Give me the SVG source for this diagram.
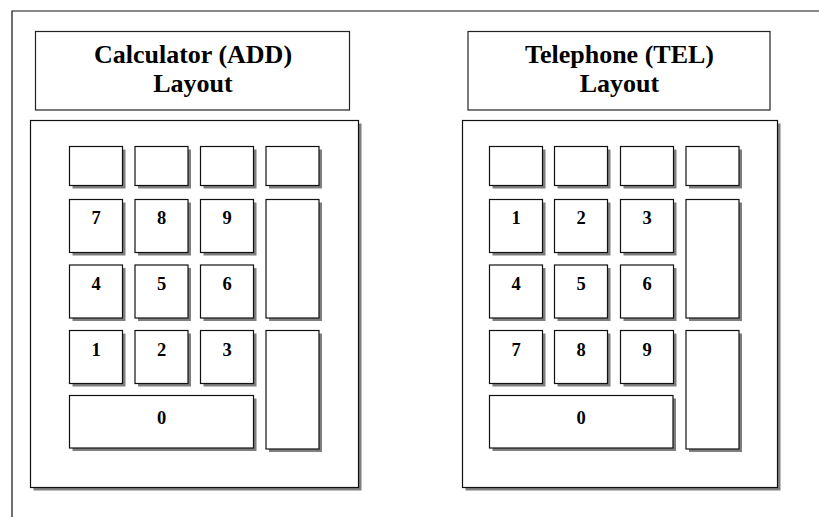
<svg xmlns="http://www.w3.org/2000/svg" width="819" height="517" viewBox="0 0 819 517">
  <style>
    .frame { fill: none; stroke: #111; stroke-width: 1.2; }
    .title { fill: #fff; stroke: #222; stroke-width: 1.2; }
    .shadow { fill: #7f7f7f; stroke: none; }
    .panel { fill: #fff; stroke: #111; stroke-width: 1.2; }
    .key { fill: #fff; stroke: #111; stroke-width: 1.2; }
    .ttl { font-family: "Liberation Serif", "Times New Roman", serif; font-weight: bold; font-size: 26px; text-anchor: middle; fill: #000; }
    .num { font-family: "Liberation Serif", "Times New Roman", serif; font-weight: bold; font-size: 18.5px; text-anchor: middle; fill: #000; }
  </style>
  <defs>
    <!-- key with drop shadow; position given by the use element -->
    <g id="k-small">
      <rect class="shadow" x="3" y="3" width="53" height="39"/>
      <rect class="key" x="0" y="0" width="53" height="39"/>
    </g>
    <g id="k-sq">
      <rect class="shadow" x="3" y="3" width="53" height="53"/>
      <rect class="key" x="0" y="0" width="53" height="53"/>
    </g>
    <g id="k-tall">
      <rect class="shadow" x="3" y="3" width="53" height="118.5"/>
      <rect class="key" x="0" y="0" width="53" height="118.5"/>
    </g>
  </defs>

  <rect width="819" height="517" fill="#fff"/>

  <!-- outer page frame (continues past the right and bottom edges) -->
  <path class="frame" d="M12 530 V11 H830"/>

  <!-- Calculator layout -->
  <g id="calc-title">
    <rect class="title" x="35.5" y="31.5" width="314" height="78.5"/>
    <text class="ttl" x="193" y="63">Calculator (ADD)</text>
    <text class="ttl" x="193" y="92">Layout</text>
  </g>

  <g id="calc-pad">
    <rect class="shadow" x="33.5" y="123.5" width="328" height="367"/>
    <rect class="panel" x="30.5" y="120.5" width="328" height="367"/>

    <use href="#k-small" x="69.5" y="146.5"/>
    <use href="#k-small" x="135" y="146.5"/>
    <use href="#k-small" x="200.5" y="146.5"/>
    <use href="#k-small" x="266" y="146.5"/>

    <use href="#k-sq" x="69.5" y="199.5"/>
    <use href="#k-sq" x="135" y="199.5"/>
    <use href="#k-sq" x="200.5" y="199.5"/>
    <use href="#k-tall" x="266" y="199.5"/>

    <use href="#k-sq" x="69.5" y="265"/>
    <use href="#k-sq" x="135" y="265"/>
    <use href="#k-sq" x="200.5" y="265"/>

    <use href="#k-sq" x="69.5" y="330.5"/>
    <use href="#k-sq" x="135" y="330.5"/>
    <use href="#k-sq" x="200.5" y="330.5"/>
    <use href="#k-tall" x="266" y="330.5"/>

    <rect class="shadow" x="72.5" y="398.5" width="184" height="52.5"/>
    <rect class="key" x="69.5" y="395.5" width="184" height="52.5"/>

    <text class="num" x="96" y="223.5">7</text>
    <text class="num" x="161.5" y="223.5">8</text>
    <text class="num" x="227" y="223.5">9</text>
    <text class="num" x="96" y="289.5">4</text>
    <text class="num" x="161.5" y="289.5">5</text>
    <text class="num" x="227" y="289.5">6</text>
    <text class="num" x="96" y="356">1</text>
    <text class="num" x="161.5" y="356">2</text>
    <text class="num" x="227" y="356">3</text>
    <text class="num" x="161.5" y="423.5">0</text>
  </g>

  <!-- Telephone layout -->
  <g id="tel-title">
    <rect class="title" x="468" y="31.5" width="302" height="78.5"/>
    <text class="ttl" x="619.5" y="62.5">Telephone (TEL)</text>
    <text class="ttl" x="619.5" y="92">Layout</text>
  </g>

  <g id="tel-pad">
    <rect class="shadow" x="465.5" y="123.5" width="315" height="367"/>
    <rect class="panel" x="462.5" y="120.5" width="315" height="367"/>

    <use href="#k-small" x="489.5" y="146.5"/>
    <use href="#k-small" x="554.5" y="146.5"/>
    <use href="#k-small" x="620.5" y="146.5"/>
    <use href="#k-small" x="686" y="146.5"/>

    <use href="#k-sq" x="489.5" y="199.5"/>
    <use href="#k-sq" x="554.5" y="199.5"/>
    <use href="#k-sq" x="620.5" y="199.5"/>
    <use href="#k-tall" x="686" y="199.5"/>

    <use href="#k-sq" x="489.5" y="265"/>
    <use href="#k-sq" x="554.5" y="265"/>
    <use href="#k-sq" x="620.5" y="265"/>

    <use href="#k-sq" x="489.5" y="330.5"/>
    <use href="#k-sq" x="554.5" y="330.5"/>
    <use href="#k-sq" x="620.5" y="330.5"/>
    <use href="#k-tall" x="686" y="330.5"/>

    <rect class="shadow" x="492.5" y="398.5" width="183.5" height="52.5"/>
    <rect class="key" x="489.5" y="395.5" width="183.5" height="52.5"/>

    <text class="num" x="516" y="223.5">1</text>
    <text class="num" x="581" y="223.5">2</text>
    <text class="num" x="647" y="223.5">3</text>
    <text class="num" x="516" y="289.5">4</text>
    <text class="num" x="581" y="289.5">5</text>
    <text class="num" x="647" y="289.5">6</text>
    <text class="num" x="516" y="356">7</text>
    <text class="num" x="581" y="356">8</text>
    <text class="num" x="647" y="356">9</text>
    <text class="num" x="581" y="423.5">0</text>
  </g>
</svg>
